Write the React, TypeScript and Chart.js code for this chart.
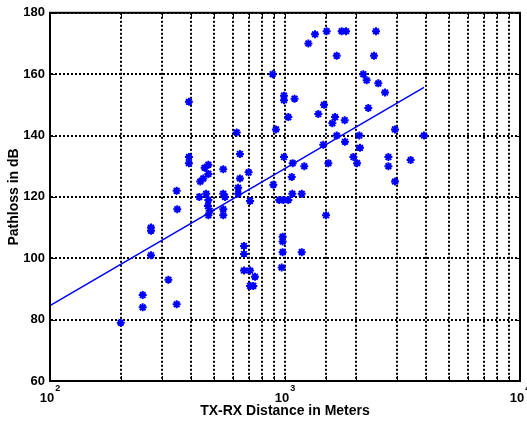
import React, { useEffect, useRef } from 'react';
import { Chart, registerables } from 'chart.js';

Chart.register(...registerables);

// ---- data ----
const distances: number[] = [
  200, 248, 248, 269, 269, 269, 319, 346, 346, 348,
  390, 390, 390,
  432, 455, 472, 472, 449, 436,
  462, 472, 470, 478, 472,
  546, 546, 555, 546, 546,
  623, 643, 643, 632, 632, 700, 710,
  669, 669, 669, 710, 745, 733, 710,
  886, 1257, 1342, 1504, 1742, 1818, 2439, 1660, 2391,
  2154, 2226, 2495, 2665, 990, 990, 1098, 1466, 1386,
  1633, 1590, 1795, 1033, 915, 2262, 2938, 3904, 1660, 2072,
  1455, 1800, 2085, 990, 1078, 1208, 1529, 1954, 2026,
  2754, 2754, 3424, 2938, 1068, 892, 945, 984, 1033,
  1074, 1178, 1495, 977, 977, 977, 1178, 968,
];
const pathloss: number[] = [
  79, 88, 84, 110, 109, 101, 93, 85, 122, 116,
  151, 133, 131,
  120, 129.5, 130.5, 127.5, 126, 125,
  121, 119, 117, 115.5, 114,
  129, 121, 120, 116, 114,
  141, 134, 126, 123, 121, 128, 118.7,
  104, 101.4, 96, 96, 94, 91, 91,
  160, 170, 173, 174, 174, 174, 174, 166, 166,
  160, 158, 157, 154, 153, 151.5, 152, 150, 147,
  146, 144, 145, 146, 142, 149, 142, 140, 140, 140,
  137, 138, 136, 133, 131, 130, 131, 133, 131,
  133, 130, 132, 125, 126.5, 124, 119, 119, 119,
  121, 121, 114, 107, 105.5, 102, 102, 97,
];
const fitDistance: number[] = [100, 3904];
const fitPathloss: number[] = [84.6, 155.7];

const xMin = 100;
const xMax = 10000;
const yMin = 60;
const yMax = 180;
const yStep = 20;
const decadeValues: number[] = [100, 1000, 10000];
const decadeExponents: string[] = ['2', '3', '4'];
const xTitle = 'TX-RX Distance in Meters';
const yTitle = 'Pathloss in dB';

const FONT = '"Liberation Sans", Arial, Helvetica, sans-serif';
const BLUE = '#0000ff';

const framePlugin = {
  id: 'matlabFrame',
  afterDraw(chart: any) {
    const { ctx, chartArea: a, scales } = chart;
    const xs = scales.x;
    const ys = scales.y;
    ctx.save();
    ctx.strokeStyle = '#000';
    ctx.lineWidth = 1;
    ctx.beginPath();
    ys.ticks.forEach((t: any) => {
      const py = Math.round(ys.getPixelForValue(t.value)) + 0.5;
      ctx.moveTo(a.left, py);
      ctx.lineTo(a.left + 5, py);
      ctx.moveTo(a.right, py);
      ctx.lineTo(a.right - 5, py);
    });
    xs.ticks.forEach((t: any) => {
      const px = Math.round(xs.getPixelForValue(t.value)) + 0.5;
      ctx.moveTo(px, a.bottom);
      ctx.lineTo(px, a.bottom - 5);
      ctx.moveTo(px, a.top);
      ctx.lineTo(px, a.top + 5);
    });
    ctx.stroke();
    ctx.lineWidth = 2;
    ctx.strokeRect(a.left, a.top, a.right - a.left, a.bottom - a.top);

    ctx.fillStyle = '#000';
    ctx.textBaseline = 'alphabetic';
    ctx.textAlign = 'left';
    decadeValues.forEach((v, i) => {
      const px = xs.getPixelForValue(v);
      ctx.font = `bold 13px ${FONT}`;
      const w1 = ctx.measureText('10').width;
      ctx.font = `bold 9px ${FONT}`;
      const w2 = ctx.measureText(decadeExponents[i]).width;
      const start = px - (w1 + 1 + w2) / 2;
      ctx.font = `bold 13px ${FONT}`;
      ctx.fillText('10', start, a.bottom + 21);
      ctx.font = `bold 9px ${FONT}`;
      ctx.fillText(decadeExponents[i], start + w1 + 1, a.bottom + 10);
    });
    ctx.restore();
  },
};

export default function App() {
  const ref = useRef<HTMLCanvasElement | null>(null);

  useEffect(() => {
    if (!ref.current) return;
    const points = distances.map((d, i) => ({ x: d, y: pathloss[i] }));
    const fit = fitDistance.map((d, i) => ({ x: d, y: fitPathloss[i] }));
    const chart = new Chart(ref.current, {
      type: 'scatter',
      data: {
        datasets: [
          {
            label: 'Measured',
            data: points,
            pointStyle: 'star',
            pointRadius: 4,
            pointBorderWidth: 2,
            borderColor: BLUE,
            backgroundColor: BLUE,
            showLine: false,
          },
          {
            label: 'Fit',
            data: fit,
            showLine: true,
            pointRadius: 0,
            borderColor: BLUE,
            borderWidth: 1.5,
            backgroundColor: BLUE,
          },
        ],
      },
      options: {
        animation: false,
        responsive: false,
        layout: { padding: { top: 11, right: 7, left: 0, bottom: 0 } },
        plugins: {
          legend: { display: false },
          tooltip: { enabled: false },
        },
        scales: {
          x: {
            type: 'logarithmic',
            min: xMin,
            max: xMax,
            afterFit: (s: any) => { s.height = 42; },
            ticks: { display: false, autoSkip: false },
            grid: { color: '#000', lineWidth: 2, drawTicks: false },
            border: { display: true, color: '#000', width: 2, dash: [2, 2] },
            title: {
              display: true,
              text: xTitle,
              color: '#000',
              font: { family: FONT, size: 14, weight: 'bold' },
              padding: { top: 0, bottom: 3 },
            },
          },
          y: {
            min: yMin,
            max: yMax,
            afterFit: (s: any) => { s.width = 50; },
            ticks: {
              stepSize: yStep,
              color: '#000',
              padding: 5,
              font: { family: FONT, size: 13, weight: 'bold' },
            },
            grid: { color: '#000', lineWidth: 2, drawTicks: false },
            border: { display: true, color: '#000', width: 2, dash: [2, 2] },
            title: {
              display: true,
              text: yTitle,
              color: '#000',
              font: { family: FONT, size: 14, weight: 'bold' },
              padding: { top: 6, bottom: 0 },
            },
          },
        },
      },
      plugins: [framePlugin],
    });
    return () => chart.destroy();
  }, []);

  return (
    <div style={{ position: 'fixed', left: 0, top: 0, width: 527, height: 423, background: '#fff' }}>
      <canvas ref={ref} width={527} height={423} style={{ display: 'block' }} />
    </div>
  );
}
